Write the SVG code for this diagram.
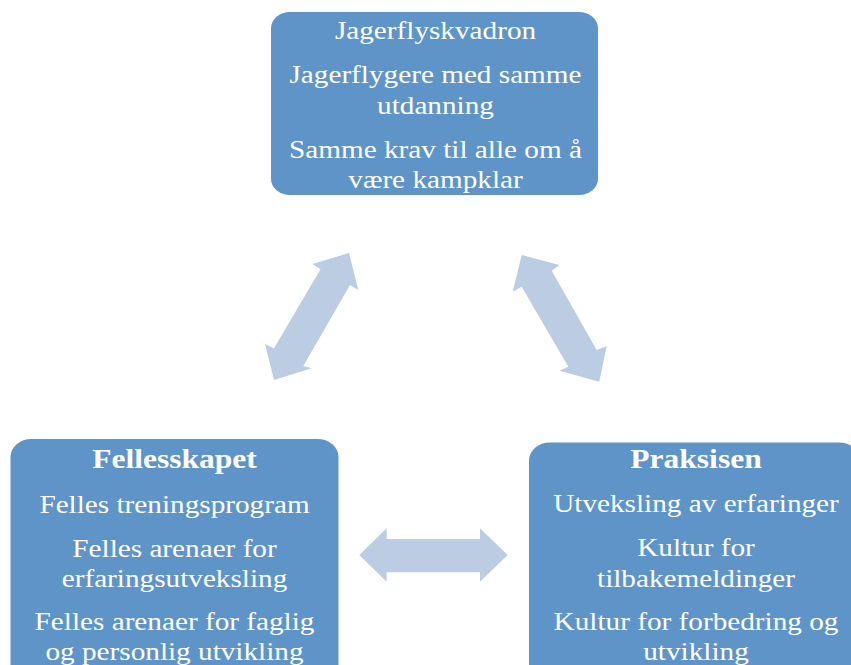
<svg xmlns="http://www.w3.org/2000/svg" width="851" height="665" viewBox="0 0 851 665">
<style>
.box{fill:#5f94c8}
.arr{fill:#bccde3}
text{font-family:"Liberation Serif","Times New Roman",serif;fill:#ffffff;text-anchor:middle;font-size:25.3px}
.h{font-weight:bold;font-size:27.3px}
</style>
<rect width="851" height="665" fill="#ffffff"/>
<g id="connectors">
<polygon class="arr" points="349,253 312.3,264 320.5,269.3 274,348.3 265,344 274,380 311.7,368.3 303.3,366 350,285 358.3,290"/>
<polygon class="arr" points="521.7,255 559.3,265 551.7,270.7 596.7,350 606.7,346 599.3,381.7 559.3,370.7 568.3,366.7 521.7,286.7 512.7,291.7"/>
<polygon class="arr" points="359.3,555 386.7,528.3 386.7,539 480,539 480,528.3 507.7,555 480,581.7 480,572.3 386.7,572.3 386.7,581.7"/>
</g>
<g id="node-top">
<rect class="box" x="271" y="12" width="327" height="183" rx="19" ry="16"/>
<g transform="translate(435.5 0) scale(1.155 1)">
<text x="0" y="39">Jagerflyskvadron</text>
<text x="0" y="83">Jagerflygere med samme</text>
<text x="0" y="114">utdanning</text>
<text x="0" y="158">Samme krav til alle om å</text>
<text x="0" y="188">være kampklar</text>
</g>
</g>
<g id="node-left">
<rect class="box" x="10.5" y="439" width="328" height="260" rx="21" ry="18"/>
<g transform="translate(174.5 0) scale(1.155 1)">
<text class="h" x="0" y="468">Fellesskapet</text>
<text x="0" y="513">Felles treningsprogram</text>
<text x="0" y="557">Felles arenaer for</text>
<text x="0" y="587">erfaringsutveksling</text>
<text x="0" y="630">Felles arenaer for faglig</text>
<text x="0" y="660">og personlig utvikling</text>
</g>
</g>
<g id="node-right">
<rect class="box" x="529" y="442.5" width="331" height="260" rx="21" ry="18"/>
<g transform="translate(696 0) scale(1.155 1)">
<text class="h" x="0" y="468">Praksisen</text>
<text x="0" y="512.5">Utveksling av erfaringer</text>
<text x="0" y="556.5">Kultur for</text>
<text x="0" y="587">tilbakemeldinger</text>
<text x="0" y="630">Kultur for forbedring og</text>
<text x="0" y="660">utvikling</text>
</g>
</g>
</svg>
